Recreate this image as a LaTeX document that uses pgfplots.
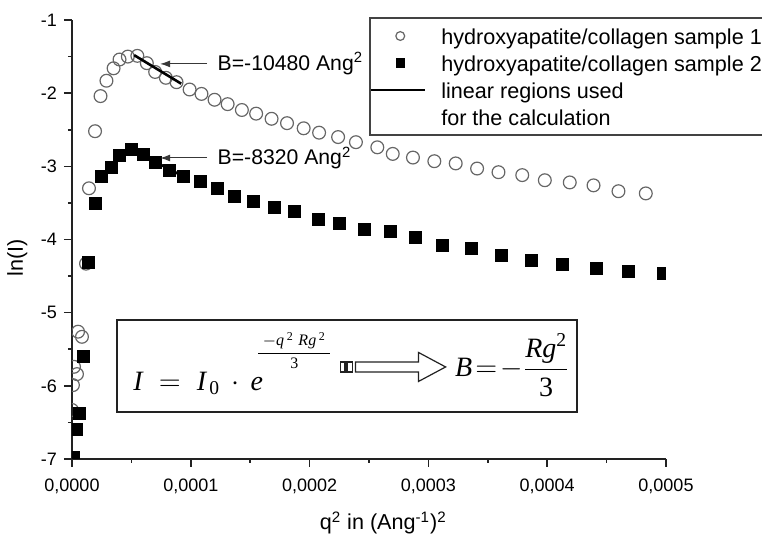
\documentclass[border=0pt]{standalone}
\usepackage{amsmath}
\usepackage{pgfplots}
\pgfplotsset{compat=1.18}
\usepackage{fontspec}
\setmainfont{Liberation Sans}
\newfontfamily\tnr{Liberation Serif}
\newcommand\ti[1]{\text{\tnr\itshape #1}}
\newcommand\tu[1]{\text{\tnr #1}}
\usetikzlibrary{arrows.meta}
\definecolor{circ}{HTML}{666666}
\definecolor{axc}{HTML}{222222}
\pgfplotsset{
 mymarklegend/.style={legend image code/.code={\draw[##1, mark size=2.2pt] plot coordinates {(14.5pt,0pt)}; \path (0pt,0pt) (21pt,0pt);}},
 mylinelegend/.style={legend image code/.code={\draw[##1, line width=1pt] (0pt,0pt) -- (21pt,0pt); \draw[##1, line width=1pt, overlay] (21pt,0pt) -- (27pt,0pt);}},
}
\begin{document}
\begin{tikzpicture}
\begin{axis}[
  width=297pt, height=219.5pt, scale only axis,
  xmin=0, xmax=0.0005, ymin=-7, ymax=-1,
  axis x line*=bottom, axis y line*=left,
  axis line style={line width=1pt, color=axc, -},
  tick align=outside,
  major tick length=4pt, minor tick length=2pt,
  every tick/.style={line width=0.8pt, color=axc},
  xtick={0,0.0001,0.0002,0.0003,0.0004,0.0005},
  ytick={-7,-6,-5,-4,-3,-2,-1},
  minor x tick num=1, minor y tick num=1,
  scaled x ticks=false,
  /pgf/number format/assume math mode=true,
  x tick label style={/pgf/number format/.cd, fixed, fixed zerofill, precision=4, use comma, /tikz/.cd, yshift=-2.5pt},
  ticklabel style={font=\fontsize{9}{10}\selectfont},
  xlabel={q\textsuperscript{2} in (Ang\textsuperscript{-1})\textsuperscript{2}},
  xlabel style={at={(axis description cs:0.524,-0.1617)}, anchor=base, font=\fontsize{10.8}{12}\selectfont},
  ylabel={ln(I)},
  ylabel style={at={(axis description cs:-0.0825,0.459)}, anchor=base, font=\fontsize{10.8}{12}\selectfont},
  clip marker paths=true,
  legend style={at={(0.5008,1.0068)}, anchor=north west, draw=axc!85, line width=0.8pt, fill=white,
    inner xsep=0pt, inner ysep=3.6pt, font=\fontsize{10.8}{12}\selectfont,
    nodes={inner sep=0.5pt, text height=9pt, text depth=1pt}, row sep=2.5pt, column sep=13pt},
  legend cell align=left,
]
\coordinate (O) at (rel axis cs:0,0);
% sample 1 (open circles)
\addplot[only marks, mark=o, mark size=3.2pt, mark options={draw=circ, fill=white, line width=0.6pt}, mymarklegend]
coordinates {
(0,-6.33) (0.8e-6,-5.99) (1.7e-6,-5.74) (4.2e-6,-5.84) (5.1e-6,-5.26) (8.4e-6,-5.33)
(1.18e-5,-4.33) (1.43e-5,-3.30) (1.94e-5,-2.52) (2.4e-5,-2.04) (2.9e-5,-1.83) (3.5e-5,-1.66)
(4.0e-5,-1.54) (4.7e-5,-1.50) (5.5e-5,-1.49) (6.3e-5,-1.59) (7.0e-5,-1.71) (7.9e-5,-1.79)
(8.8e-5,-1.85) (9.9e-5,-1.95) (1.09e-4,-2.01) (1.20e-4,-2.09) (1.31e-4,-2.15) (1.43e-4,-2.23)
(1.55e-4,-2.28) (1.68e-4,-2.35) (1.81e-4,-2.41) (1.95e-4,-2.48) (2.08e-4,-2.54) (2.24e-4,-2.60)
(2.39e-4,-2.67) (2.57e-4,-2.74) (2.70e-4,-2.83) (2.87e-4,-2.88) (3.05e-4,-2.93) (3.23e-4,-2.96)
(3.41e-4,-3.03) (3.59e-4,-3.08) (3.79e-4,-3.12) (3.98e-4,-3.19) (4.19e-4,-3.22) (4.39e-4,-3.26)
(4.60e-4,-3.34) (4.83e-4,-3.37) (5.02e-4,-3.45)
};
\addlegendentry{hydroxyapatite/collagen sample 1}
% fit line sample 2 (mostly hidden)
\addplot[black, line width=1.3pt, forget plot] coordinates {(5.0e-5,-2.77) (9.4e-5,-3.14)};
% sample 2 (filled squares)
\addplot[only marks, mark=square*, mark size=3pt, mark options={draw=black, fill=black, line width=0.3pt}, mymarklegend]
coordinates {
(0.8e-6,-6.97) (3.4e-6,-6.59) (5.9e-6,-6.38) (9.3e-6,-5.59) (1.35e-5,-4.31) (1.94e-5,-3.51)
(2.5e-5,-3.14) (3.3e-5,-3.01) (4.0e-5,-2.85) (5.0e-5,-2.77) (6.0e-5,-2.84) (7.0e-5,-2.95)
(8.2e-5,-3.05) (9.4e-5,-3.14) (1.08e-4,-3.21) (1.22e-4,-3.30) (1.37e-4,-3.41) (1.53e-4,-3.48)
(1.70e-4,-3.56) (1.87e-4,-3.62) (2.07e-4,-3.73) (2.25e-4,-3.78) (2.46e-4,-3.86) (2.68e-4,-3.89)
(2.89e-4,-3.97) (3.12e-4,-4.08) (3.36e-4,-4.12) (3.61e-4,-4.21) (3.87e-4,-4.28) (4.13e-4,-4.34)
(4.41e-4,-4.39) (4.68e-4,-4.43) (4.98e-4,-4.46)
};
\addlegendentry{hydroxyapatite/collagen sample 2}
% fit line sample 1
\addplot[black, line width=1.3pt, mylinelegend]
coordinates {(5.23e-5,-1.48) (9.19e-5,-1.87)};
\addlegendentry{linear regions used}
\addlegendimage{empty legend}
\addlegendentry{for the calculation}
% annotations
\draw[axc!90, line width=0.5pt, -{Latex[length=5pt,width=3.5pt]}] (axis cs:1.138e-4,-1.60) -- (axis cs:7.42e-5,-1.60);
\draw[axc!90, line width=0.5pt, -{Latex[length=5pt,width=3.5pt]}] (axis cs:1.138e-4,-2.886) -- (axis cs:7.42e-5,-2.886);
\node[anchor=west, inner sep=0pt, font=\fontsize{10.6}{12}\selectfont] at (axis cs:1.223e-4,-1.60) {B=-10480 Ang\textsuperscript{2}};
\node[anchor=west, inner sep=0pt, font=\fontsize{10.6}{12}\selectfont] at (axis cs:1.223e-4,-2.886) {B=-8320 Ang\textsuperscript{2}};
% formula box
\draw[axc, line width=0.8pt] (axis cs:3.794e-5,-5.100) rectangle (axis cs:4.250e-4,-6.357);
\node[anchor=base west, inner sep=0pt, font=\fontsize{14}{16}\selectfont] at (axis cs:5.143e-5,-6.057) {$\ti{I} \;=\; \ti{I}_{\,\tu{0}} \,\cdot\, \ti{e}$};
\node[inner sep=0pt, font=\fontsize{8}{9}\selectfont] at (axis cs:1.872e-4,-5.52) {$\displaystyle\frac{\makebox[36pt]{$-\ti{q}^{\,\tu{2}}\;\ti{Rg}^{\,\tu{2}}$}}{\tu{3}}$};
\draw[axc, line width=0.6pt, fill=white] (axis cs:2.260e-4,-5.674) rectangle (axis cs:2.298e-4,-5.810);
\draw[axc, line width=0.6pt, fill=white] (axis cs:2.315e-4,-5.674) rectangle (axis cs:2.361e-4,-5.810);
\draw[axc, line width=0.6pt, fill=white] (axis cs:2.386e-4,-5.674) -- (axis cs:2.917e-4,-5.674) -- (axis cs:2.917e-4,-5.544) -- (axis cs:3.145e-4,-5.742) -- (axis cs:2.917e-4,-5.940) -- (axis cs:2.917e-4,-5.810) -- (axis cs:2.386e-4,-5.810) -- cycle;
\node[anchor=base west, inner sep=0pt, font=\fontsize{14}{16}\selectfont] at (axis cs:3.221e-4,-5.879) {$\ti{B}\!=\!-\displaystyle\frac{\ti{Rg}^{\tu{2}}}{\tu{3}}$};
\end{axis}
\pgfresetboundingbox
\path[use as bounding box] ([shift={(-36pt,-38.5pt)}]O) rectangle ([shift={(345pt,229.5pt)}]O);
\end{tikzpicture}
\end{document}
